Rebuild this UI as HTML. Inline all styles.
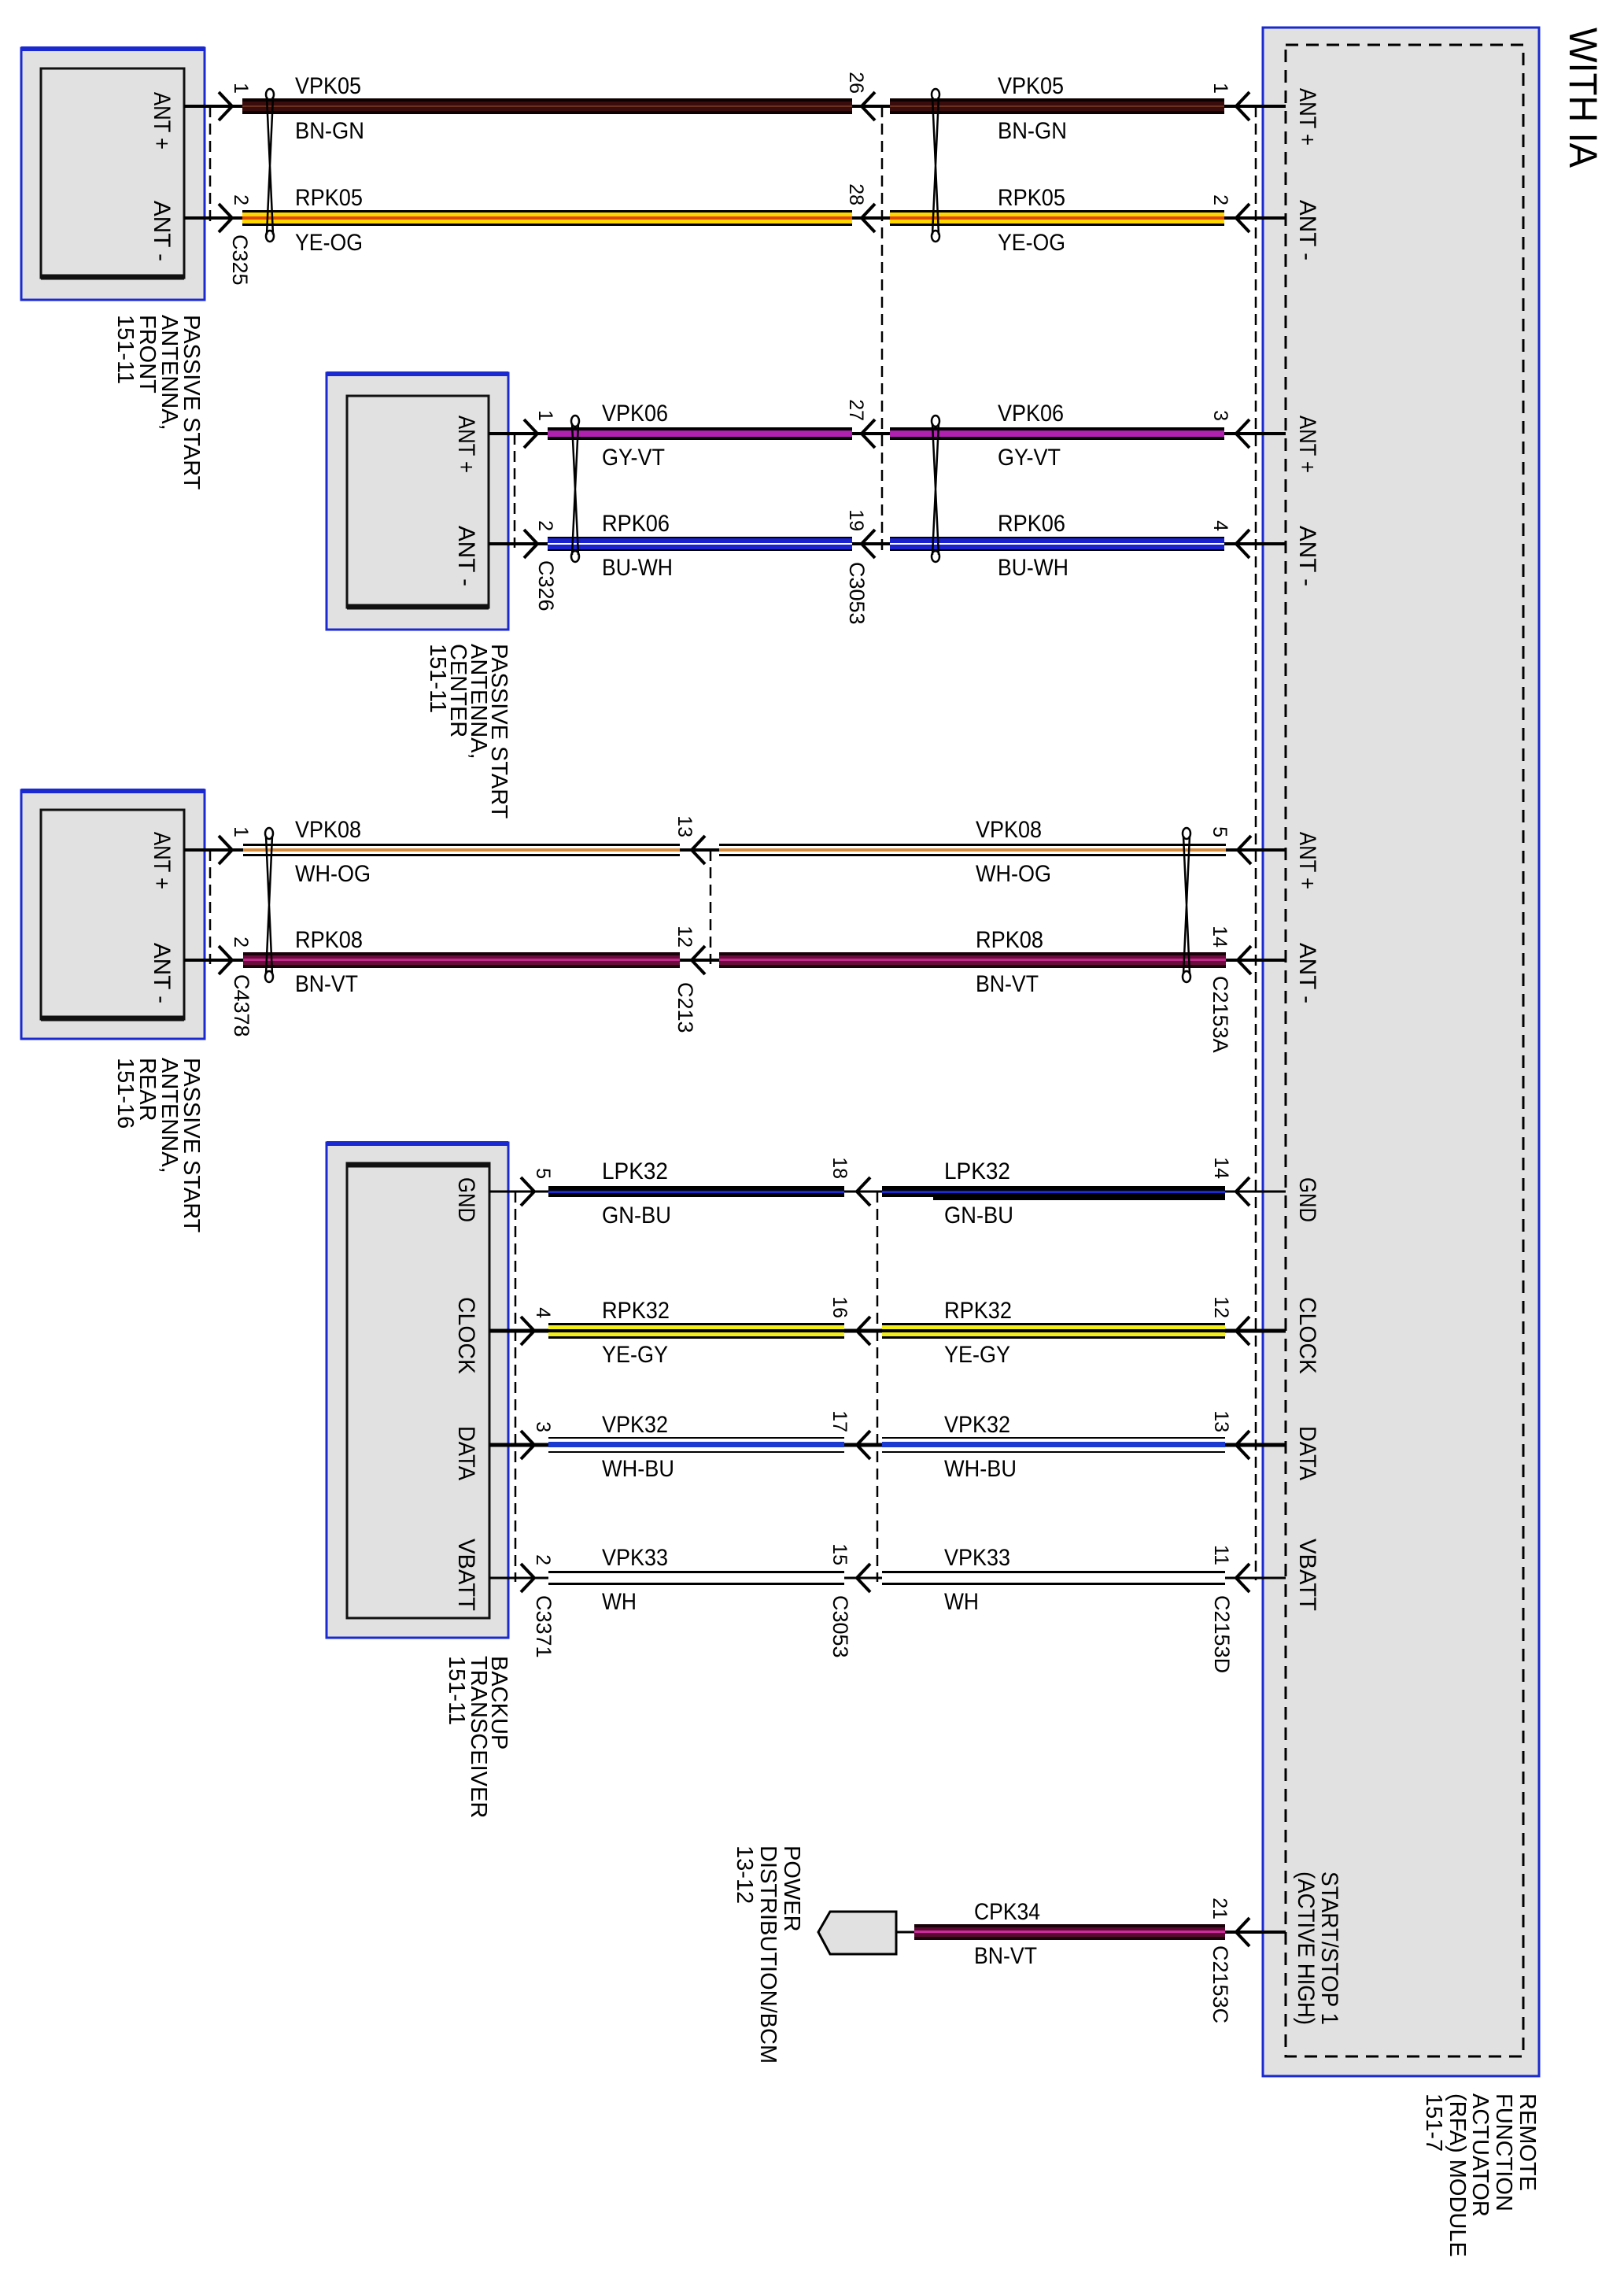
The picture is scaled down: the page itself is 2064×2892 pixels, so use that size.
<!DOCTYPE html>
<html><head><meta charset="utf-8"><style>
html,body{margin:0;padding:0;background:#fff}
svg{display:block}
text{font-family:"Liberation Sans",Arial,sans-serif;fill:#000}
.w{font-size:30px}
.p{font-size:25px}
.l{font-size:30px}
.m{font-size:29px}
</style></head><body>
<svg width="2064" height="2892" viewBox="0 0 2064 2892" xmlns="http://www.w3.org/2000/svg">
<rect x="1605" y="35" width="351" height="2603" fill="#e1e1e1" stroke="#1a2ad0" stroke-width="3"/>
<rect x="1634" y="57" width="302" height="2556" fill="none" stroke="#000" stroke-width="3" stroke-dasharray="16 10"/>
<text transform="translate(1995,35) rotate(90)" textLength="178" lengthAdjust="spacingAndGlyphs" style="font-size:50px">WITH IA</text>

<g fill="#e1e1e1" stroke="#1a2ad0" stroke-width="3">
<rect x="27" y="61" width="233" height="320"/>
<rect x="415" y="474" width="231" height="326"/>
<rect x="27" y="1004" width="233" height="316"/>
<rect x="415" y="1452" width="231" height="629"/>
</g>
<g stroke="#1a2ad0" stroke-width="6">
<line x1="27" y1="62" x2="260" y2="62"/><line x1="415" y1="475" x2="646" y2="475"/>
<line x1="27" y1="1005" x2="260" y2="1005"/><line x1="415" y1="1453" x2="646" y2="1453"/>
</g>
<g fill="#e1e1e1" stroke="#111" stroke-width="3">
<rect x="52" y="87" width="182" height="266"/>
<rect x="441" y="503" width="180" height="269"/>
<rect x="52" y="1029" width="182" height="266"/>
<rect x="441" y="1478" width="181" height="578"/>
</g>
<g stroke="#111" stroke-width="7">
<line x1="52" y1="352" x2="234" y2="352"/><line x1="441" y1="771" x2="621" y2="771"/>
<line x1="52" y1="1294" x2="234" y2="1294"/><line x1="441" y1="1480" x2="622" y2="1480"/>
</g>

<g stroke="#000" stroke-width="2.5" stroke-dasharray="14 8" fill="none">
<line x1="267" y1="135" x2="267" y2="282"/>
<line x1="1121" y1="135" x2="1121" y2="700"/>
<line x1="1596" y1="135" x2="1596" y2="2008"/>
<line x1="654" y1="551" x2="654" y2="696"/>
<line x1="267" y1="1080" x2="267" y2="1225"/>
<line x1="903" y1="1080" x2="903" y2="1225"/>
<line x1="655" y1="1514" x2="655" y2="2010"/>
<line x1="1115" y1="1514" x2="1115" y2="2010"/>
</g>

<g stroke="#000" stroke-width="4">
<line x1="234" y1="135" x2="310" y2="135"/><line x1="234" y1="277" x2="310" y2="277"/>
<line x1="1080" y1="135" x2="1133" y2="135"/><line x1="1080" y1="277" x2="1133" y2="277"/>
<line x1="1554" y1="135" x2="1634" y2="135"/><line x1="1554" y1="277" x2="1634" y2="277"/>
<line x1="621" y1="551" x2="698" y2="551"/><line x1="621" y1="691" x2="698" y2="691"/>
<line x1="1080" y1="551" x2="1133" y2="551"/><line x1="1080" y1="691" x2="1133" y2="691"/>
<line x1="1554" y1="551" x2="1634" y2="551"/><line x1="1554" y1="691" x2="1634" y2="691"/>
<line x1="234" y1="1080" x2="311" y2="1080"/><line x1="234" y1="1220" x2="311" y2="1220"/>
<line x1="862" y1="1080" x2="916" y2="1080"/><line x1="862" y1="1220" x2="916" y2="1220"/>
<line x1="1556" y1="1080" x2="1634" y2="1080"/><line x1="1556" y1="1220" x2="1634" y2="1220"/>
<line x1="1139" y1="2455" x2="1164" y2="2455" stroke-width="3"/>
<line x1="1555" y1="2455" x2="1634" y2="2455"/>
</g>
<g stroke="#000" stroke-width="3">
<line x1="622" y1="1514" x2="699" y2="1514"/><line x1="1071" y1="1514" x2="1123" y2="1514"/><line x1="1555" y1="1514" x2="1634" y2="1514"/>
<line x1="622" y1="2005" x2="699" y2="2005"/><line x1="1071" y1="2005" x2="1123" y2="2005"/><line x1="1555" y1="2005" x2="1634" y2="2005"/>
</g>
<g stroke="#000" stroke-width="5">
<line x1="622" y1="1691" x2="699" y2="1691"/><line x1="1071" y1="1691" x2="1123" y2="1691"/><line x1="1555" y1="1691" x2="1634" y2="1691"/>
<line x1="622" y1="1836" x2="699" y2="1836"/><line x1="1071" y1="1836" x2="1123" y2="1836"/><line x1="1555" y1="1836" x2="1634" y2="1836"/>
</g>

<g><rect x="308" y="125" width="775" height="20" fill="#0d0000"/><rect x="308" y="129" width="775" height="12" fill="#3a0c0c"/><rect x="308" y="134" width="775" height="2" fill="#6a3020"/>
<rect x="1131" y="125" width="425" height="20" fill="#0d0000"/><rect x="1131" y="129" width="425" height="12" fill="#3a0c0c"/><rect x="1131" y="134" width="425" height="2" fill="#6a3020"/></g>
<g><rect x="308" y="267" width="775" height="20" fill="#000"/><rect x="308" y="270" width="775" height="14" fill="#ffd600"/><rect x="308" y="275" width="775" height="4" fill="#e04a00"/>
<rect x="1131" y="267" width="425" height="20" fill="#000"/><rect x="1131" y="270" width="425" height="14" fill="#ffd600"/><rect x="1131" y="275" width="425" height="4" fill="#e04a00"/></g>
<g><rect x="696" y="543" width="387" height="16" fill="#000"/><rect x="696" y="547" width="387" height="8" fill="#b021b0"/>
<rect x="1131" y="543" width="425" height="16" fill="#000"/><rect x="1131" y="547" width="425" height="8" fill="#b021b0"/></g>
<g><rect x="696" y="682" width="387" height="18" fill="#000"/><rect x="696" y="684" width="387" height="14" fill="#1a22d0"/><rect x="696" y="690" width="387" height="2" fill="#fff"/>
<rect x="1131" y="682" width="425" height="18" fill="#000"/><rect x="1131" y="684" width="425" height="14" fill="#1a22d0"/><rect x="1131" y="690" width="425" height="2" fill="#fff"/></g>
<g><rect x="309" y="1072" width="555" height="16" fill="#000"/><rect x="309" y="1075" width="555" height="10" fill="#fff"/><rect x="309" y="1078" width="555" height="4" fill="#d58a3a"/>
<rect x="914" y="1072" width="644" height="16" fill="#000"/><rect x="914" y="1075" width="644" height="10" fill="#fff"/><rect x="914" y="1078" width="644" height="4" fill="#d58a3a"/></g>
<g><rect x="309" y="1210" width="555" height="20" fill="#1a0008"/><rect x="309" y="1214" width="555" height="12" fill="#6a0c3c"/><rect x="309" y="1218" width="555" height="3" fill="#c02a8a"/>
<rect x="914" y="1210" width="644" height="20" fill="#1a0008"/><rect x="914" y="1214" width="644" height="12" fill="#6a0c3c"/><rect x="914" y="1218" width="644" height="3" fill="#c02a8a"/></g>
<g><rect x="697" y="1507" width="376" height="14" fill="#000"/><rect x="697" y="1513" width="376" height="3" fill="#1a2ad0"/>
<rect x="1121" y="1507" width="436" height="14" fill="#000"/><rect x="1121" y="1513" width="436" height="3" fill="#1a2ad0"/><rect x="1186" y="1519" width="371" height="6" fill="#000"/></g>
<g><rect x="697" y="1681" width="376" height="20" fill="#000"/><rect x="697" y="1684" width="376" height="5" fill="#f2ee1a"/><rect x="697" y="1693" width="376" height="5" fill="#f2ee1a"/>
<rect x="1121" y="1681" width="436" height="20" fill="#000"/><rect x="1121" y="1684" width="436" height="5" fill="#f2ee1a"/><rect x="1121" y="1693" width="436" height="5" fill="#f2ee1a"/></g>
<g><rect x="697" y="1826" width="376" height="20" fill="#000"/><rect x="697" y="1828" width="376" height="16" fill="#fff"/><rect x="697" y="1832" width="376" height="7" fill="#1a3ad0"/>
<rect x="1121" y="1826" width="436" height="20" fill="#000"/><rect x="1121" y="1828" width="436" height="16" fill="#fff"/><rect x="1121" y="1832" width="436" height="7" fill="#1a3ad0"/></g>
<g><rect x="697" y="1996" width="376" height="18" fill="#000"/><rect x="697" y="1999" width="376" height="12" fill="#fff"/>
<rect x="1121" y="1996" width="436" height="18" fill="#000"/><rect x="1121" y="1999" width="436" height="12" fill="#fff"/></g>
<g><rect x="1162" y="2445" width="395" height="20" fill="#1a0008"/><rect x="1162" y="2449" width="395" height="12" fill="#5a0a30"/><rect x="1162" y="2453" width="395" height="3" fill="#d02aa0"/></g>

<g fill="none" stroke="#000" stroke-width="4" stroke-linejoin="round">
<path d="M278 117 L295 135 L278 153"/><path d="M278 259 L295 277 L278 295"/>
<path d="M1112 117 L1095 135 L1112 153"/><path d="M1112 259 L1095 277 L1112 295"/>
<path d="M1588 117 L1571 135 L1588 153"/><path d="M1588 259 L1571 277 L1588 295"/>
<path d="M666 533 L683 551 L666 569"/><path d="M666 673 L683 691 L666 709"/>
<path d="M1112 533 L1095 551 L1112 569"/><path d="M1112 673 L1095 691 L1112 709"/>
<path d="M1588 533 L1571 551 L1588 569"/><path d="M1588 673 L1571 691 L1588 709"/>
<path d="M278 1062 L295 1080 L278 1098"/><path d="M278 1202 L295 1220 L278 1238"/>
<path d="M896 1062 L879 1080 L896 1098"/><path d="M896 1202 L879 1220 L896 1238"/>
<path d="M1590 1062 L1573 1080 L1590 1098"/><path d="M1590 1202 L1573 1220 L1590 1238"/>
<path d="M662 1496 L679 1514 L662 1532"/><path d="M662 1673 L679 1691 L662 1709"/><path d="M662 1818 L679 1836 L662 1854"/><path d="M662 1987 L679 2005 L662 2023"/>
<path d="M1106 1496 L1089 1514 L1106 1532"/><path d="M1106 1673 L1089 1691 L1106 1709"/><path d="M1106 1818 L1089 1836 L1106 1854"/><path d="M1106 1987 L1089 2005 L1106 2023"/>
<path d="M1588 1496 L1571 1514 L1588 1532"/><path d="M1588 1673 L1571 1691 L1588 1709"/><path d="M1588 1818 L1571 1836 L1588 1854"/><path d="M1588 1987 L1571 2005 L1588 2023"/>
<path d="M1588 2437 L1571 2455 L1588 2473"/>
</g>

<!-- twists: narrow crossing loops -->
<g fill="none" stroke="#000" stroke-width="2.5">
<path d="M339 123 L347 298 M347 123 L339 298"/><ellipse cx="343" cy="120" rx="5" ry="7"/><ellipse cx="343" cy="300" rx="5" ry="7"/>
<path d="M1185 123 L1193 298 M1193 123 L1185 298"/><ellipse cx="1189" cy="120" rx="5" ry="7"/><ellipse cx="1189" cy="300" rx="5" ry="7"/>
<path d="M727 538 L735 705 M735 538 L727 705"/><ellipse cx="731" cy="535" rx="5" ry="7"/><ellipse cx="731" cy="707" rx="5" ry="7"/>
<path d="M1185 538 L1193 705 M1193 538 L1185 705"/><ellipse cx="1189" cy="535" rx="5" ry="7"/><ellipse cx="1189" cy="707" rx="5" ry="7"/>
<path d="M338 1062 L346 1238 M346 1062 L338 1238"/><ellipse cx="342" cy="1059" rx="5" ry="7"/><ellipse cx="342" cy="1241" rx="5" ry="7"/>
<path d="M1504 1062 L1512 1238 M1512 1062 L1504 1238"/><ellipse cx="1508" cy="1059" rx="5" ry="7"/><ellipse cx="1508" cy="1241" rx="5" ry="7"/>
</g>

<polygon points="1040,2455 1055,2429 1139,2429 1139,2483 1055,2483" fill="#e1e1e1" stroke="#000" stroke-width="3"/>

<g class="w">
<text x="375" y="119" textLength="84" lengthAdjust="spacingAndGlyphs">VPK05</text>
<text x="375" y="176" textLength="88" lengthAdjust="spacingAndGlyphs">BN-GN</text>
<text x="375" y="261" textLength="86" lengthAdjust="spacingAndGlyphs">RPK05</text>
<text x="375" y="318" textLength="86" lengthAdjust="spacingAndGlyphs">YE-OG</text>
<text x="1268" y="119" textLength="84" lengthAdjust="spacingAndGlyphs">VPK05</text>
<text x="1268" y="176" textLength="88" lengthAdjust="spacingAndGlyphs">BN-GN</text>
<text x="1268" y="261" textLength="86" lengthAdjust="spacingAndGlyphs">RPK05</text>
<text x="1268" y="318" textLength="86" lengthAdjust="spacingAndGlyphs">YE-OG</text>
<text x="765" y="535" textLength="84" lengthAdjust="spacingAndGlyphs">VPK06</text>
<text x="765" y="591" textLength="80" lengthAdjust="spacingAndGlyphs">GY-VT</text>
<text x="765" y="675" textLength="86" lengthAdjust="spacingAndGlyphs">RPK06</text>
<text x="765" y="731" textLength="90" lengthAdjust="spacingAndGlyphs">BU-WH</text>
<text x="1268" y="535" textLength="84" lengthAdjust="spacingAndGlyphs">VPK06</text>
<text x="1268" y="591" textLength="80" lengthAdjust="spacingAndGlyphs">GY-VT</text>
<text x="1268" y="675" textLength="86" lengthAdjust="spacingAndGlyphs">RPK06</text>
<text x="1268" y="731" textLength="90" lengthAdjust="spacingAndGlyphs">BU-WH</text>
<text x="375" y="1064" textLength="84" lengthAdjust="spacingAndGlyphs">VPK08</text>
<text x="375" y="1120" textLength="96" lengthAdjust="spacingAndGlyphs">WH-OG</text>
<text x="375" y="1204" textLength="86" lengthAdjust="spacingAndGlyphs">RPK08</text>
<text x="375" y="1260" textLength="80" lengthAdjust="spacingAndGlyphs">BN-VT</text>
<text x="1240" y="1064" textLength="84" lengthAdjust="spacingAndGlyphs">VPK08</text>
<text x="1240" y="1120" textLength="96" lengthAdjust="spacingAndGlyphs">WH-OG</text>
<text x="1240" y="1204" textLength="86" lengthAdjust="spacingAndGlyphs">RPK08</text>
<text x="1240" y="1260" textLength="80" lengthAdjust="spacingAndGlyphs">BN-VT</text>
<text x="765" y="1498" textLength="84" lengthAdjust="spacingAndGlyphs">LPK32</text>
<text x="765" y="1554" textLength="88" lengthAdjust="spacingAndGlyphs">GN-BU</text>
<text x="765" y="1675" textLength="86" lengthAdjust="spacingAndGlyphs">RPK32</text>
<text x="765" y="1731" textLength="84" lengthAdjust="spacingAndGlyphs">YE-GY</text>
<text x="765" y="1820" textLength="84" lengthAdjust="spacingAndGlyphs">VPK32</text>
<text x="765" y="1876" textLength="92" lengthAdjust="spacingAndGlyphs">WH-BU</text>
<text x="765" y="1989" textLength="84" lengthAdjust="spacingAndGlyphs">VPK33</text>
<text x="765" y="2045" textLength="44" lengthAdjust="spacingAndGlyphs">WH</text>
<text x="1200" y="1498" textLength="84" lengthAdjust="spacingAndGlyphs">LPK32</text>
<text x="1200" y="1554" textLength="88" lengthAdjust="spacingAndGlyphs">GN-BU</text>
<text x="1200" y="1675" textLength="86" lengthAdjust="spacingAndGlyphs">RPK32</text>
<text x="1200" y="1731" textLength="84" lengthAdjust="spacingAndGlyphs">YE-GY</text>
<text x="1200" y="1820" textLength="84" lengthAdjust="spacingAndGlyphs">VPK32</text>
<text x="1200" y="1876" textLength="92" lengthAdjust="spacingAndGlyphs">WH-BU</text>
<text x="1200" y="1989" textLength="84" lengthAdjust="spacingAndGlyphs">VPK33</text>
<text x="1200" y="2045" textLength="44" lengthAdjust="spacingAndGlyphs">WH</text>
<text x="1238" y="2439" textLength="84" lengthAdjust="spacingAndGlyphs">CPK34</text>
<text x="1238" y="2495" textLength="80" lengthAdjust="spacingAndGlyphs">BN-VT</text>
</g>

<g class="p" text-anchor="end">
<text transform="translate(298,119) rotate(90)">1</text>
<text transform="translate(298,261) rotate(90)">2</text>
<text transform="translate(1080,119) rotate(90)">26</text>
<text transform="translate(1080,261) rotate(90)">28</text>
<text transform="translate(1543,119) rotate(90)">1</text>
<text transform="translate(1543,261) rotate(90)">2</text>
<text transform="translate(685,535) rotate(90)">1</text>
<text transform="translate(685,675) rotate(90)">2</text>
<text transform="translate(1080,535) rotate(90)">27</text>
<text transform="translate(1080,675) rotate(90)">19</text>
<text transform="translate(1543,535) rotate(90)">3</text>
<text transform="translate(1543,675) rotate(90)">4</text>
<text transform="translate(298,1064) rotate(90)">1</text>
<text transform="translate(298,1204) rotate(90)">2</text>
<text transform="translate(862,1064) rotate(90)">13</text>
<text transform="translate(862,1204) rotate(90)">12</text>
<text transform="translate(1542,1064) rotate(90)">5</text>
<text transform="translate(1542,1204) rotate(90)">14</text>
<text transform="translate(682,1498) rotate(90)">5</text>
<text transform="translate(682,1675) rotate(90)">4</text>
<text transform="translate(682,1820) rotate(90)">3</text>
<text transform="translate(682,1989) rotate(90)">2</text>
<text transform="translate(1059,1498) rotate(90)">18</text>
<text transform="translate(1059,1675) rotate(90)">16</text>
<text transform="translate(1059,1820) rotate(90)">17</text>
<text transform="translate(1059,1989) rotate(90)">15</text>
<text transform="translate(1544,1498) rotate(90)">14</text>
<text transform="translate(1544,1675) rotate(90)">12</text>
<text transform="translate(1544,1820) rotate(90)">13</text>
<text transform="translate(1544,1989) rotate(90)">11</text>
<text transform="translate(1542,2439) rotate(90)">21</text>
</g>

<g style="font-size:27px">
<text transform="translate(296,298) rotate(90)">C325</text>
<text transform="translate(685,712) rotate(90)">C326</text>
<text transform="translate(1080,714) rotate(90)">C3053</text>
<text transform="translate(298,1238) rotate(90)">C4378</text>
<text transform="translate(862,1248) rotate(90)">C213</text>
<text transform="translate(1542,1240) rotate(90)">C2153A</text>
<text transform="translate(682,2027) rotate(90)">C3371</text>
<text transform="translate(1059,2027) rotate(90)">C3053</text>
<text transform="translate(1544,2027) rotate(90)">C2153D</text>
<text transform="translate(1542,2472) rotate(90)">C2153C</text>
</g>

<g class="l">
<text transform="translate(196,117) rotate(90)" textLength="73" lengthAdjust="spacingAndGlyphs">ANT +</text>
<text transform="translate(196,255) rotate(90)" textLength="77" lengthAdjust="spacingAndGlyphs">ANT -</text>
<text transform="translate(1652,112) rotate(90)" textLength="73" lengthAdjust="spacingAndGlyphs">ANT +</text>
<text transform="translate(1652,254) rotate(90)" textLength="77" lengthAdjust="spacingAndGlyphs">ANT -</text>
<text transform="translate(583,528) rotate(90)" textLength="73" lengthAdjust="spacingAndGlyphs">ANT +</text>
<text transform="translate(583,668) rotate(90)" textLength="77" lengthAdjust="spacingAndGlyphs">ANT -</text>
<text transform="translate(1652,528) rotate(90)" textLength="73" lengthAdjust="spacingAndGlyphs">ANT +</text>
<text transform="translate(1652,668) rotate(90)" textLength="77" lengthAdjust="spacingAndGlyphs">ANT -</text>
<text transform="translate(196,1057) rotate(90)" textLength="73" lengthAdjust="spacingAndGlyphs">ANT +</text>
<text transform="translate(196,1198) rotate(90)" textLength="77" lengthAdjust="spacingAndGlyphs">ANT -</text>
<text transform="translate(1652,1057) rotate(90)" textLength="73" lengthAdjust="spacingAndGlyphs">ANT +</text>
<text transform="translate(1652,1198) rotate(90)" textLength="77" lengthAdjust="spacingAndGlyphs">ANT -</text>
<text transform="translate(583,1496) rotate(90)" textLength="57" lengthAdjust="spacingAndGlyphs">GND</text>
<text transform="translate(583,1648) rotate(90)" textLength="98" lengthAdjust="spacingAndGlyphs">CLOCK</text>
<text transform="translate(583,1812) rotate(90)" textLength="69" lengthAdjust="spacingAndGlyphs">DATA</text>
<text transform="translate(583,1955) rotate(90)" textLength="92" lengthAdjust="spacingAndGlyphs">VBATT</text>
<text transform="translate(1652,1496) rotate(90)" textLength="57" lengthAdjust="spacingAndGlyphs">GND</text>
<text transform="translate(1652,1648) rotate(90)" textLength="98" lengthAdjust="spacingAndGlyphs">CLOCK</text>
<text transform="translate(1652,1812) rotate(90)" textLength="69" lengthAdjust="spacingAndGlyphs">DATA</text>
<text transform="translate(1652,1955) rotate(90)" textLength="92" lengthAdjust="spacingAndGlyphs">VBATT</text>
<text transform="translate(1680,2378) rotate(90)" textLength="195" lengthAdjust="spacingAndGlyphs">START/STOP 1</text>
<text transform="translate(1650,2378) rotate(90)" textLength="195" lengthAdjust="spacingAndGlyphs">(ACTIVE HIGH)</text>
</g>

<g class="m">
<text transform="translate(234,400) rotate(90)">PASSIVE START</text>
<text transform="translate(206,400) rotate(90)">ANTENNA,</text>
<text transform="translate(178,400) rotate(90)">FRONT</text>
<text transform="translate(150,400) rotate(90)">151-11</text>
<text transform="translate(625,818) rotate(90)">PASSIVE START</text>
<text transform="translate(599,818) rotate(90)">ANTENNA,</text>
<text transform="translate(573,818) rotate(90)">CENTER</text>
<text transform="translate(547,818) rotate(90)">151-11</text>
<text transform="translate(234,1344) rotate(90)">PASSIVE START</text>
<text transform="translate(206,1344) rotate(90)">ANTENNA,</text>
<text transform="translate(178,1344) rotate(90)">REAR</text>
<text transform="translate(150,1344) rotate(90)">151-16</text>
<text transform="translate(625,2104) rotate(90)">BACKUP</text>
<text transform="translate(599,2104) rotate(90)">TRANSCEIVER</text>
<text transform="translate(571,2104) rotate(90)">151-11</text>
<text transform="translate(997,2345) rotate(90)">POWER</text>
<text transform="translate(967,2345) rotate(90)">DISTRIBUTION/BCM</text>
<text transform="translate(937,2345) rotate(90)">13-12</text>
<text transform="translate(1932,2660) rotate(90)">REMOTE</text>
<text transform="translate(1902,2660) rotate(90)">FUNCTION</text>
<text transform="translate(1872,2660) rotate(90)">ACTUATOR</text>
<text transform="translate(1843,2660) rotate(90)">(RFA) MODULE</text>
<text transform="translate(1813,2660) rotate(90)">151-7</text>
</g>
</svg>
</body></html>
